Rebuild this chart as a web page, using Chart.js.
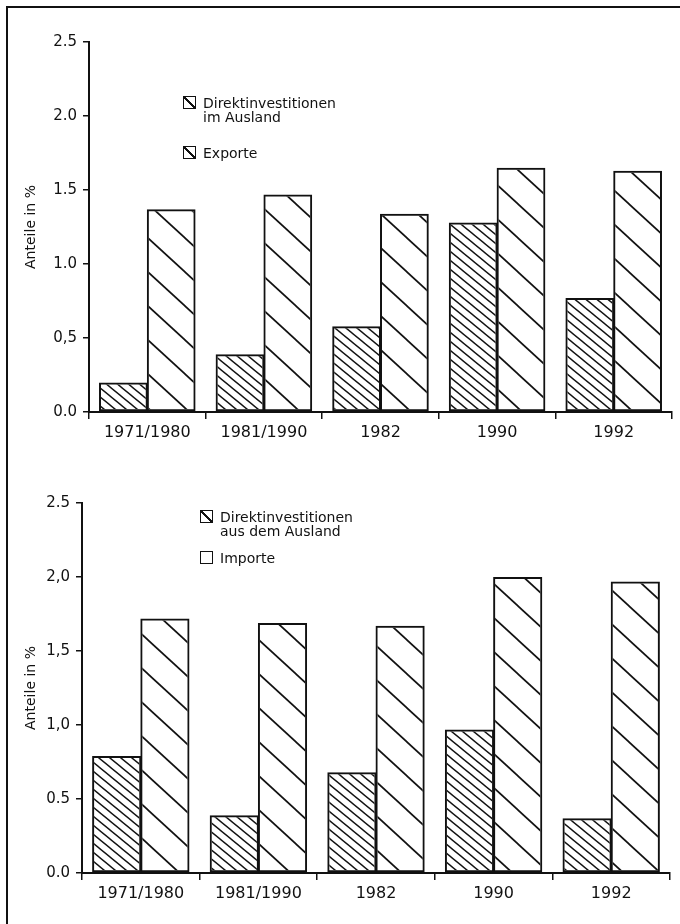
<!DOCTYPE html>
<html>
<head>
<meta charset="utf-8">
<script src="https://cdn.jsdelivr.net/npm/chart.js@4.4.0/dist/chart.umd.min.js"></script>
<style>
  body { margin:0; width:680px; height:924px; overflow:hidden; background:#fff; position:relative;
         font-family:"DejaVu Sans", sans-serif; color:#111; }
  #rahmen { position:absolute; left:6px; top:6px; width:700px; height:930px;
            border-left:2px solid #111; border-top:2px solid #111; }
  canvas { position:absolute; left:0; }
  #oben { top:0; }
  #unten { top:470px; }
  .legende { position:absolute; font-size:14px; line-height:14px; }
  .eintrag { display:flex; align-items:flex-start; }
  .kasten { width:11px; height:11px; border:1.5px solid #111; margin:0 7px 0 0; flex:none; }
  .diag { background:linear-gradient(to top right, transparent calc(50% - 1px), #111 calc(50% - 1px),
                                     #111 calc(50% + 1px), transparent calc(50% + 1px)); }
</style>
</head>
<body>
<div id="rahmen"></div>
<canvas id="oben" width="680" height="470"></canvas>
<canvas id="unten" width="680" height="454"></canvas>
<div class="legende" id="legOben" style="left:183px; top:96px;"></div>
<div class="legende" id="legUnten" style="left:200px; top:510px;"></div>
<script>
// Werte (Anteile in %)
const kategorien = ['1971/1980', '1981/1990', '1982', '1990', '1992'];
const diImAusland = [0.20, 0.39, 0.58, 1.28, 0.77];
const exporte = [1.37, 1.47, 1.34, 1.65, 1.63];
const diAusDemAusland = [0.79, 0.39, 0.68, 0.97, 0.37];
const importe = [1.72, 1.69, 1.67, 2.00, 1.97];
const yTicksOben = ['0.0', '0,5', '1.0', '1.5', '2.0', '2.5'];
const yTicksUnten = ['0.0', '0.5', '1,0', '1,5', '2,0', '2.5'];
const achsenTitel = 'Anteile in %';
const legendeOben = [['Direktinvestitionen', 'im Ausland'], ['Exporte']];
const legendeUnten = [['Direktinvestitionen', 'aus dem Ausland'], ['Importe']];

const schwarz = '#111';

// schraffur: linien von oben links nach unten rechts
function schraffur(w, h, breite) {
    let c = document.createElement('canvas');
    c.width = w; c.height = h;
    let g = c.getContext('2d');
    g.strokeStyle = schwarz;
    g.lineWidth = breite;
    for (let k = -1; k <= 1; k++) {
        g.beginPath();
        g.moveTo(-w, -h + k * h);
        g.lineTo(2 * w, 2 * h + k * h);
        g.stroke();
    }
    return g.createPattern(c, 'repeat');
}

const dicht = schraffur(11, 9, 1.4);
const weit = schraffur(37, 34, 1.7);

function baueDiagramm(id, reihe1, reihe2, namen, yTicks, links, rechts, oben, unten) {
    new Chart(document.getElementById(id), {
        type: 'bar',
        data: {
            labels: kategorien,
            datasets: [
                { label: namen[0].join(' '), data: reihe1, backgroundColor: dicht,
                  borderColor: schwarz, borderWidth: 2, borderSkipped: false },
                { label: namen[1].join(' '), data: reihe2, backgroundColor: weit,
                  borderColor: schwarz, borderWidth: 2, borderSkipped: false }
            ]
        },
        options: {
            responsive: false,
            animation: false,
            devicePixelRatio: 1,
            categoryPercentage: 0.82,
            barPercentage: 1.02,
            layout: { padding: { top: oben, right: rechts, bottom: unten, left: 0 } },
            plugins: { legend: { display: false }, tooltip: { enabled: false } },
            scales: {
                x: {
                    grid: { display: true, drawOnChartArea: false, tickLength: 7, color: schwarz, lineWidth: 1.5 },
                    border: { display: true, color: schwarz, width: 2 },
                    ticks: { color: schwarz, font: { family: 'DejaVu Sans', size: 16 }, padding: 4 },
                    afterFit: function (s) { s.height = 40; }
                },
                y: {
                    min: 0,
                    max: 2.5,
                    grid: { display: true, drawOnChartArea: false, tickLength: 6, color: schwarz, lineWidth: 1.5 },
                    border: { display: true, color: schwarz, width: 2 },
                    ticks: {
                        stepSize: 0.5,
                        color: schwarz,
                        font: { family: 'DejaVu Sans', size: 15 },
                        padding: 6,
                        callback: function (v, i) { return yTicks[i]; }
                    },
                    title: { display: true, text: achsenTitel, color: schwarz,
                             font: { family: 'DejaVu Sans', size: 14 }, padding: { top: 23, bottom: 0 } },
                    afterFit: function (s) { s.width = links; }
                }
            }
        }
    });
}

function baueLegende(id, namen, muster, abstand) {
    let ziel = document.getElementById(id);
    namen.forEach(function (zeilen, i) {
        let eintrag = document.createElement('div');
        eintrag.className = 'eintrag';
        if (i > 0) eintrag.style.marginTop = abstand + 'px';
        let kasten = document.createElement('span');
        kasten.className = 'kasten' + (muster[i] ? ' diag' : '');
        let text = document.createElement('span');
        text.innerHTML = zeilen.join('<br>');
        eintrag.append(kasten, text);
        ziel.append(eintrag);
    });
}

baueDiagramm('oben', diImAusland, exporte, legendeOben, yTicksOben, 89, 8, 42, 18);
baueDiagramm('unten', diAusDemAusland, importe, legendeUnten, yTicksUnten, 82, 10, 33, 11);
baueLegende('legOben', legendeOben, [true, true], 22);
baueLegende('legUnten', legendeUnten, [true, false], 13);
</script>
</body>
</html>
